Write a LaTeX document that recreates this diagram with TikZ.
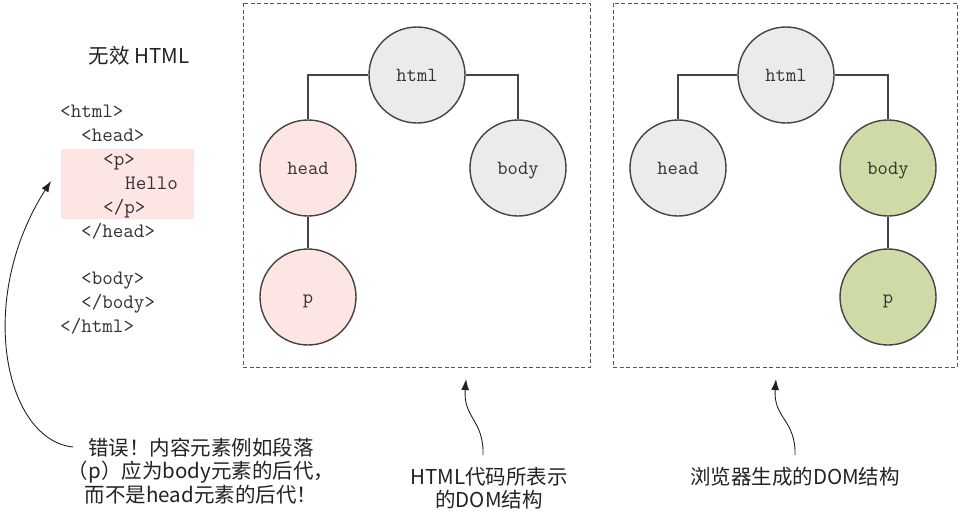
\documentclass[tikz,border=0pt]{standalone}
\usepackage{fontspec}
\setmainfont{Liberation Sans}
\newfontfamily\cjk{Noto Sans CJK SC}
\usetikzlibrary{arrows.meta}
\definecolor{cgray}{HTML}{EBEBEB}
\definecolor{cpink}{HTML}{FDE5E3}
\definecolor{cgreen}{HTML}{CFDBA6}
\definecolor{cline}{HTML}{444444}
\definecolor{cdash}{HTML}{555555}
\definecolor{ctext}{HTML}{222222}
\definecolor{ccode}{HTML}{333333}
\begin{document}
\begin{tikzpicture}[x=1pt,y=-1pt,
  treenode/.style={circle,draw=cline,line width=1.4pt,minimum size=96pt,inner sep=0pt,
    text height=13pt,text depth=1pt,
    font=\ttfamily\fontsize{20}{20}\selectfont,text=ccode},
  grayn/.style={treenode,fill=cgray},
  pinkn/.style={treenode,fill=cpink},
  greenn/.style={treenode,fill=cgreen},
  edge/.style={draw=cline,line width=1.2pt},
  dbox/.style={draw=cdash,line width=0.9pt,dash pattern=on 4pt off 2.5pt},
  code/.style={anchor=base west,font=\ttfamily\fontsize{20.5}{20.5}\selectfont,text=ccode,inner sep=0pt},
  label/.style={font=\cjk\fontsize{20.5}{23.5}\selectfont,text=ctext,align=center,inner sep=0pt},
  pointer/.style={draw=ctext,line width=0.9pt,-{Latex[length=11pt,width=8pt]}}
]
\useasboundingbox (0,0) rectangle (960,515);
% highlight
\fill[cpink] (61,149) rectangle (194,219);
% title
\node[label] (title) at (139,56) {无效 HTML};
% code
\node[code] (c1) at (60,117) {<html>};
\node[code] (c2) at (81,141) {<head>};
\node[code] (c3) at (103,165) {<p>};
\node[code] (c4) at (125,189) {Hello};
\node[code] (c5) at (103,213) {</p>};
\node[code] (c6) at (81,237) {</head>};
\node[code] (c7) at (81,284) {<body>};
\node[code] (c8) at (81,308) {</body>};
\node[code] (c9) at (60,332) {</html>};
% boxes
\draw[dbox] (243,3) rectangle (590,367);
\draw[dbox] (613,3) rectangle (957,367);
% left tree
\node[grayn] (h1) at (417,75) {html};
\node[pinkn] (hd1) at (308,168) {head};
\node[grayn] (b1) at (518,168) {body};
\node[pinkn] (p1) at (308,297) {p};
\draw[edge] (h1.west) -| (hd1.north);
\draw[edge] (h1.east) -| (b1.north);
\draw[edge] (hd1.south) -- (p1.north);
% right tree
\node[grayn] (h2) at (786,75) {html};
\node[grayn] (hd2) at (678,168) {head};
\node[greenn] (b2) at (888,168) {body};
\node[greenn] (p2) at (888,297) {p};
\draw[edge] (h2.west) -| (hd2.north);
\draw[edge] (h2.east) -| (b2.north);
\draw[edge] (b2.south) -- (p2.north);
% labels
\node[label] (err) at (201,471) {错误！内容元素例如段落\\（p）应为body元素的后代，\\而不是head元素的后代！};
\node[label] (lab1) at (489,488) {HTML代码所表示\\的DOM结构};
\node[label] (lab2) at (795,477) {浏览器生成的DOM结构};
% pointers
\coordinate (e1) at (73,447);
\coordinate (t1) at (51,181);
\draw[pointer] (e1) .. controls (5,440) and (-25,300) .. (t1);
\coordinate (e2) at (483,455);
\coordinate (t2) at (466,379);
\draw[pointer] (e2) .. controls (484,420) and (463,418) .. (t2);
\coordinate (e3) at (795,455);
\coordinate (t3) at (776,379);
\draw[pointer] (e3) .. controls (796,420) and (773,418) .. (t3);
\end{tikzpicture}
\end{document}
